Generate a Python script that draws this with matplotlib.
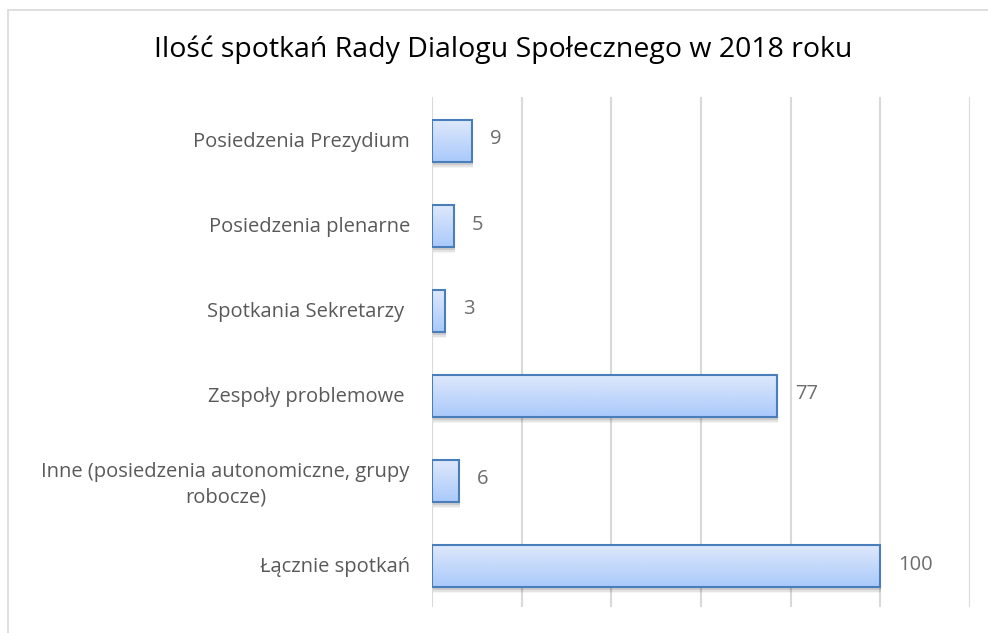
import matplotlib.pyplot as plt
import matplotlib.patches as mpatches
import numpy as np

categories = ['Posiedzenia Prezydium', 'Posiedzenia plenarne', 'Spotkania Sekretarzy ',
              'Zespoły problemowe ', 'Inne (posiedzenia autonomiczne, grupy\nrobocze)',
              'Łącznie spotkań']
values = [9, 5, 3, 77, 6, 100]
title = 'Ilość spotkań Rady Dialogu Społecznego w 2018 roku'

plt.rcParams['font.family'] = ['Open Sans', 'DejaVu Sans']

fig = plt.figure(figsize=(9.88, 6.33), dpi=100)
# light frame like the chart area border
fig.patches.append(mpatches.Rectangle((8 / 988, -0.1), 1.1, 1 - 10 / 633 + 0.1,
                                      transform=fig.transFigure, fill=False,
                                      edgecolor='#d9d9d9', lw=1.2))

ax = fig.add_axes([432 / 988, 1 - 607 / 633, 538 / 988, 510 / 633])
y = np.arange(len(categories))

# gradient for the bars
grad = np.linspace(0, 1, 256).reshape(-1, 1)
cmap = plt.matplotlib.colors.LinearSegmentedColormap.from_list('g', ['#dfe9fb', '#a9c9fb'])

bars = ax.barh(y + 0.02, values, height=0.5, color='none', edgecolor='#4a7ebb', lw=1.5, zorder=4)
for b in bars:
    x0, y0, w, h = b.get_x(), b.get_y(), b.get_width(), b.get_height()
    # drop shadow
    for k, a in enumerate([0.10, 0.07, 0.04]):
        ax.add_patch(mpatches.Rectangle((x0 + 0.2, y0 + 0.03 + 0.02 * k), w, h,
                                        facecolor='#000000', alpha=a, lw=0, zorder=2))
    im = ax.imshow(grad, extent=(x0, x0 + w, y0 + h, y0), aspect='auto', cmap=cmap,
                   zorder=3, interpolation='bicubic')
    im.set_clip_path(b)

for yi, v in zip(y, values):
    ax.text(v + 3.9, yi, str(v), va='center', ha='left', fontsize=14.5, color='#6d6d6d')

ax.set_xlim(0, 120)
ax.set_ylim(len(categories) - 0.5, -0.5)
ax.set_xticks(range(0, 121, 20))
ax.set_xticklabels([])
ax.set_yticks(y)
ax.set_yticklabels(categories, fontsize=14.5, color='#595959', ha='right',
                   multialignment='center', linespacing=1.35)
ax.tick_params(length=0, pad=16)
ax.grid(axis='x', color='#d9d9d9', lw=1.5, zorder=0)
ax.set_axisbelow(True)
for s in ax.spines.values():
    s.set_visible(False)

fig.text(503 / 988, 1 - 50 / 633, title, ha='center', va='center', fontsize=20.5, color='#000000')

plt.savefig('out.png', dpi=100)
